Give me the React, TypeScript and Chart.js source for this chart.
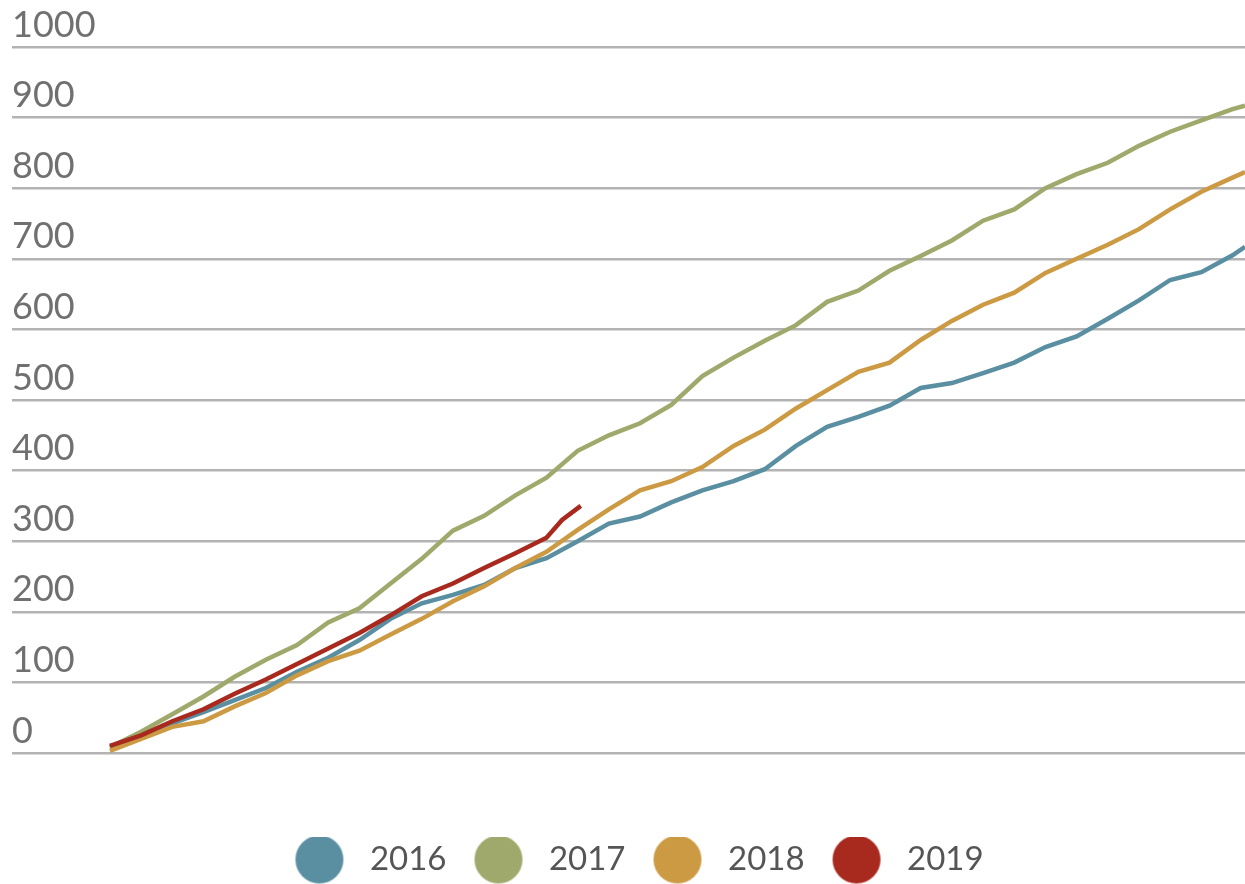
import React, { useEffect, useRef } from "react";
import { Chart, registerables } from "chart.js";

Chart.register(...registerables);

// Day of year for each sampled point
const DAYS = [1, 11, 21, 31, 41, 51, 61, 71, 81, 91, 101, 111, 121, 131, 141, 151, 161, 171, 181, 191, 201, 211, 221, 231, 241, 251, 261, 271, 281, 291, 301, 311, 321, 331, 341, 351, 361, 365];
const DAYS_2019 = [1, 11, 21, 31, 41, 51, 61, 71, 81, 91, 101, 111, 121, 131, 141, 146, 152];

const SERIES_LABELS = ["2016", "2017", "2018", "2019"];
const VALUES_2016 = [8, 25, 42, 58, 75, 92, 115, 135, 160, 190, 212, 224, 238, 262, 276, 300, 325, 335, 355, 372, 385, 402, 435, 462, 476, 492, 517, 524, 538, 553, 575, 590, 615, 641, 670, 681, 705, 717];
const VALUES_2017 = [8, 30, 55, 80, 108, 132, 153, 185, 205, 240, 275, 315, 336, 365, 390, 428, 450, 467, 493, 534, 560, 584, 606, 639, 655, 683, 704, 726, 754, 770, 800, 820, 836, 860, 880, 896, 912, 917];
const VALUES_2018 = [3, 20, 37, 45, 66, 85, 110, 130, 145, 168, 190, 215, 236, 262, 285, 316, 345, 372, 385, 405, 435, 458, 488, 514, 540, 553, 585, 612, 635, 652, 680, 700, 720, 742, 770, 795, 815, 823];
const VALUES_2019 = [10, 25, 45, 62, 84, 104, 126, 148, 170, 195, 222, 240, 262, 283, 305, 330, 350];

const Y_TICKS = [0, 100, 200, 300, 400, 500, 600, 700, 800, 900, 1000];

const COLORS = ["#5a8fa1", "#9ea96b", "#cc9a43", "#a82a1f"];

function makeDot(color: string): HTMLCanvasElement {
  const c = document.createElement("canvas");
  c.width = 80;
  c.height = 50;
  const ctx = c.getContext("2d")!;
  ctx.fillStyle = color;
  ctx.beginPath();
  ctx.arc(46, 25, 24, 0, Math.PI * 2);
  ctx.fill();
  return c;
}

export default function App() {
  const ref = useRef<HTMLCanvasElement | null>(null);

  useEffect(() => {
    if (!ref.current) return;
    const mk = (days: number[], vals: number[]) => vals.map((v, i) => ({ x: days[i], y: v }));
    const seriesData = [
      mk(DAYS, VALUES_2016),
      mk(DAYS, VALUES_2017),
      mk(DAYS, VALUES_2018),
      mk(DAYS_2019, VALUES_2019),
    ];
    const orders = [3, 2, 1, 0];
    const chart = new Chart(ref.current, {
      type: "line",
      data: {
        datasets: SERIES_LABELS.map((label, i) => ({
          label,
          data: seriesData[i],
          borderColor: COLORS[i],
          backgroundColor: COLORS[i],
          borderWidth: 4.5,
          pointRadius: 0,
          pointHoverRadius: 0,
          tension: 0,
          fill: false,
          order: orders[i],
          pointStyle: makeDot(COLORS[i]) as any,
        })),
      },
      options: {
        responsive: false,
        animation: false,
        layout: { padding: { top: 47, left: 12, right: 0, bottom: -2 } },
        plugins: {
          tooltip: { enabled: false },
          legend: {
            position: "bottom",
            labels: {
              usePointStyle: true,
              pointStyleWidth: 80,
              boxHeight: 33,
              padding: 6,
              color: "#555555",
              font: { family: "Lato, 'Noto Sans', sans-serif", size: 33 },
              sort: (a: any, b: any) => a.datasetIndex - b.datasetIndex,
            },
          },
        },
        scales: {
          x: {
            type: "linear",
            min: -30.4,
            max: 365,
            display: true,
            grid: { display: false },
            border: { display: false },
            ticks: { display: false },
            afterFit: (s: any) => {
              s.height = 84;
            },
          },
          y: {
            type: "linear",
            min: 0,
            max: 1000,
            afterBuildTicks: (s: any) => {
              s.ticks = Y_TICKS.map((v) => ({ value: v }));
            },
            grid: { color: "#b3b3b3", lineWidth: 2.5, drawTicks: false },
            border: { display: false },
            ticks: {
              mirror: true,
              padding: 0,
              labelOffset: -22,
              color: "#707070",
              font: { family: "Lato, 'Noto Sans', sans-serif", size: 36 },
              callback: (v: any) => String(v),
            },
          },
        },
      },
    });
    return () => chart.destroy();
  }, []);

  return (
    <div style={{ position: "absolute", left: 0, top: 0, width: 1245, height: 884, background: "#fff" }}>
      <canvas ref={ref} width={1245} height={884} style={{ width: 1245, height: 884, display: "block" }} />
    </div>
  );
}
